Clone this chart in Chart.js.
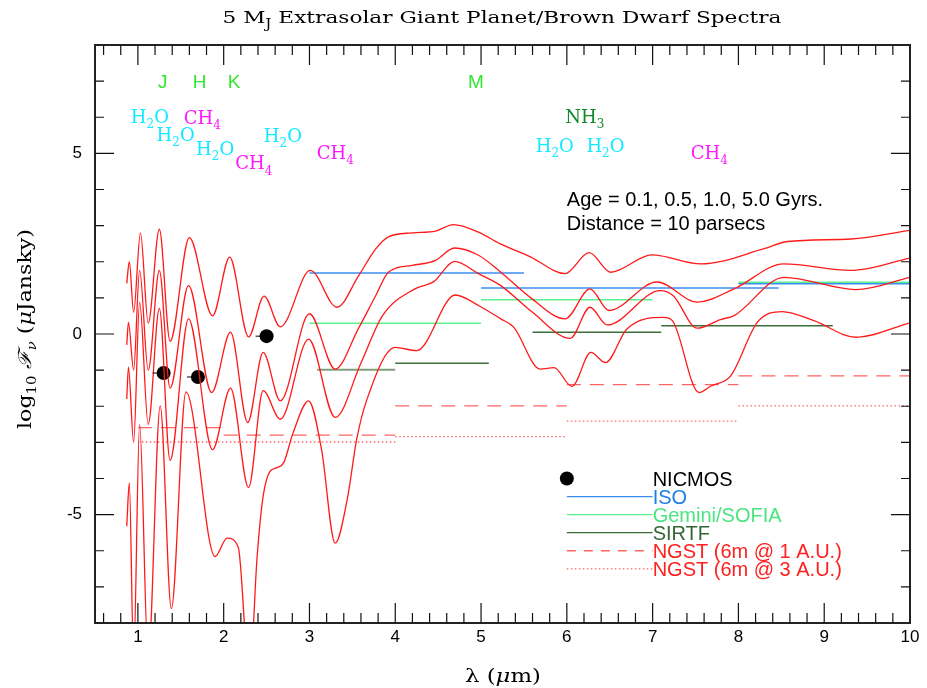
<!doctype html>
<html lang="en">
<head>
<meta charset="UTF-8">
<title>5 MJ Extrasolar Giant Planet/Brown Dwarf Spectra</title>
<script src="https://cdn.jsdelivr.net/npm/chart.js@4.4.1/dist/chart.umd.min.js"></script>
<style>
  html, body { margin: 0; padding: 0; background: #fff; }
  #wrap { width: 927px; height: 688px; }
</style>
</head>
<body>
<div id="wrap"><canvas id="chart" width="927" height="688"></canvas></div>
<script>
// model spectra, one per age (top = youngest)
const age01Wave = [0.87, 0.9, 0.95, 1.03, 1.12, 1.25, 1.375, 1.6, 1.87, 2.07, 2.29, 2.47, 2.66, 3.01, 3.32, 3.57, 3.77, 3.92, 4.2, 4.47, 4.68, 4.97, 5.22, 5.58, 5.98, 6.26, 6.51, 6.99, 7.56, 8.3, 8.57, 9.31, 10.0];
const age01Flux = [1.4, 2.0, 0.6, 2.8, 0.3, 2.9, -0.2, 2.67, 0.5, 2.13, -0.08, 1.05, 0.2, 1.76, 0.74, 1.6, 2.35, 2.69, 2.8, 2.85, 3.03, 2.82, 2.5, 2.13, 1.67, 2.25, 1.71, 2.19, 1.94, 2.36, 2.56, 2.63, 2.87];

const age05Wave = [0.87, 0.89, 0.95, 1.02, 1.12, 1.25, 1.375, 1.59, 1.86, 2.08, 2.28, 2.46, 2.66, 3.0, 3.3, 3.57, 3.77, 3.92, 4.2, 4.47, 4.69, 4.97, 5.23, 5.58, 5.98, 6.27, 6.49, 7.05, 7.52, 7.95, 8.53, 9.31, 10.0];
const age05Flux = [-0.3, 0.32, -1.0, 1.76, -1.0, 1.76, -1.5, 1.34, -1.62, 0.05, -2.45, -0.51, -1.85, 0.56, -0.97, 0.15, 1.05, 1.71, 1.9, 2.04, 2.38, 2.18, 1.71, 1.0, 0.42, 1.25, 0.65, 1.44, 0.88, 1.25, 1.94, 1.76, 2.1];

const age10Wave = [0.87, 0.89, 0.95, 1.02, 1.12, 1.25, 1.375, 1.59, 1.87, 2.08, 2.29, 2.46, 2.66, 2.99, 3.3, 3.6, 3.85, 4.23, 4.45, 4.69, 4.97, 5.23, 5.6, 6.04, 6.27, 6.47, 7.09, 7.24, 7.52, 7.79, 7.95, 8.53, 9.37, 10.0];
const age10Flux = [-1.8, -0.92, -3.0, 0.88, -2.5, 0.71, -3.5, 0.42, -3.2, -1.5, -4.25, -1.57, -2.36, -0.14, -2.31, -0.8, 0.5, 1.25, 1.45, 2.01, 1.67, 1.34, 0.6, -0.12, 0.74, 0.25, 1.2, 1.06, 0.16, 0.4, 0.51, 1.57, 1.23, 1.57];

const age50Wave = [0.87, 0.9, 0.95, 1.02, 1.12, 1.26, 1.39, 1.56, 1.9, 2.04, 2.17, 2.3, 2.39, 2.46, 2.54, 2.62, 2.7, 2.81, 2.99, 3.14, 3.3, 3.44, 3.55, 3.67, 4.0, 4.25, 4.7, 4.97, 5.23, 5.38, 5.69, 5.85, 6.06, 6.28, 6.45, 6.7, 7.13, 7.23, 7.54, 7.68, 7.91, 8.22, 8.51, 8.88, 9.37, 10.0];
const age50Flux = [-5.32, -4.12, -9, -2.5, -9, -1.99, -7.6, -1.6, -6.16, -5.65, -5.9, -9.5, -6.16, -4.49, -3.8, -3.7, -3.56, -2.73, -1.85, -3.19, -5.79, -4.58, -2.92, -1.81, -0.37, -0.46, 1.08, 0.79, 0.42, 0.19, -0.97, -0.93, -1.45, -0.51, -0.79, 0.14, 0.46, 0.37, -1.62, -1.44, -1.16, 0.32, 0.62, 0.37, -0.09, 0.31];

// NICMOS sensitivity points
const nicmosWave = [1.3, 1.7, 2.5];
const nicmosFlux = [-1.08, -1.19, -0.06];

// instrument sensitivity bands: start, end, level
const isoStart = [3.0, 5.0, 8.0];
const isoEnd = [5.5, 8.47, 10.0];
const isoLevel = [1.69, 1.27, 1.39];

const geminiStart = [3.0, 5.0, 8.0];
const geminiEnd = [5.0, 7.0, 10.0];
const geminiLevel = [0.3, 0.95, 1.43];

const sirtfStart = [3.09, 4.0, 5.6, 7.1];
const sirtfEnd = [4.0, 5.09, 7.1, 9.1];
const sirtfLevel = [-0.99, -0.81, 0.05, 0.23];

const ngst1Start = [1.0, 2.0, 4.0, 6.0, 8.0];
const ngst1End = [2.0, 4.0, 6.0, 8.0, 10.0];
const ngst1Level = [-2.59, -2.8, -1.99, -1.4, -1.16];

const ngst3Start = [1.0, 4.0, 6.0, 8.0];
const ngst3End = [4.0, 6.0, 8.0, 10.0];
const ngst3Level = [-2.99, -2.84, -2.41, -1.99];

// axis ticks
const xTickLabels = [1, 2, 3, 4, 5, 6, 7, 8, 9, 10];
const yTickLabels = [-5, 0, 5];

// annotations
const bandNames = ['J', 'H', 'K', 'M'];
const bandWave = [1.29, 1.72, 2.12, 4.94];
const bandLevel = [7.0, 7.0, 7.0, 7.0];

const molNames = ['H2O', 'CH4', 'H2O', 'H2O', 'CH4', 'H2O', 'CH4', 'NH3', 'H2O', 'H2O', 'CH4'];
const molWave = [1.14, 1.75, 1.44, 1.9, 2.35, 2.69, 3.3, 6.21, 5.86, 6.45, 7.66];
const molLevel = [6.02, 6.0, 5.53, 5.14, 4.74, 5.5, 5.03, 6.02, 5.22, 5.22, 5.03];

const legendNames = ['NICMOS', 'ISO', 'Gemini/SOFIA', 'SIRTF', 'NGST (6m @ 1 A.U.)', 'NGST (6m @ 3 A.U.)'];

const RED = '#ff1a1a';
const COL = {
  iso: '#3a8ef0',
  gemini: '#5ef08e',
  sirtf: '#3b6e3b',
  sirtfPale: '#7f9f7f',
  ngst: '#ff6464',
  ngstText: '#ff2020',
  cyan: '#12eaff',
  magenta: '#ff18ff',
  band: '#33e633',
  nh3: '#138a2a'
};
const SANS = '"Liberation Sans", Arial, sans-serif';
const SERIF = '"DejaVu Serif", serif';

function pts(w, f) { return w.map((x, i) => ({ x: x, y: f[i] })); }

const datasets = [];
[[age01Wave, age01Flux], [age05Wave, age05Flux], [age10Wave, age10Flux], [age50Wave, age50Flux]].forEach(function (c) {
  datasets.push({
    type: 'line', data: pts(c[0], c[1]), borderColor: RED, borderWidth: 1.3,
    pointRadius: 0, cubicInterpolationMode: 'monotone', fill: false
  });
});

function addBands(starts, ends, levels, color, dash, width) {
  starts.forEach(function (s, i) {
    const c = Array.isArray(color) ? color[i] : color;
    const w = Array.isArray(width) ? width[i] : width;
    datasets.push({
      type: 'line', data: [{ x: s, y: levels[i] }, { x: ends[i], y: levels[i] }],
      borderColor: c, borderWidth: w, borderDash: dash, pointRadius: 0, tension: 0
    });
  });
}
addBands(ngst3Start, ngst3End, ngst3Level, COL.ngst, [1.5, 2.5], 1.3);
addBands(ngst1Start, ngst1End, ngst1Level, COL.ngst, [14, 9], 1.3);
addBands(sirtfStart, sirtfEnd, sirtfLevel, [COL.sirtfPale, COL.sirtf, COL.sirtf, COL.sirtf], [], [2, 1.4, 1.4, 1.4]);
addBands(isoStart, isoEnd, isoLevel, COL.iso, [], 1.5);
addBands(geminiStart, geminiEnd, geminiLevel, COL.gemini, [], 1.5);

datasets.push({
  type: 'scatter', data: pts(nicmosWave, nicmosFlux), pointRadius: 7,
  pointBackgroundColor: '#000', pointBorderColor: '#000', borderWidth: 0
});

// draw text with subscripts: parts = [[text, mode]], mode 0 normal, 1 sub, 2 italic, 3 italic sub
function fontFor(m, size, family) {
  const s = (m === 1 || m === 3) ? Math.round(size * 0.68) : size;
  return ((m >= 2) ? 'italic ' : '') + s + 'px ' + family;
}
function richWidth(ctx, parts, size, family) {
  let w = 0;
  parts.forEach(function (p) { ctx.font = fontFor(p[1], size, family); w += ctx.measureText(p[0]).width; });
  return w;
}
// fitWidth: optional total width to stretch the text to
function drawRich(ctx, parts, x, y, size, family, color, align, fitWidth) {
  const w = richWidth(ctx, parts, size, family);
  const sx = fitWidth ? fitWidth / w : 1;
  ctx.save();
  ctx.translate(x, y);
  ctx.scale(sx, 1);
  let cx = align === 'center' ? -w / 2 : 0;
  ctx.fillStyle = color;
  ctx.textAlign = 'left';
  ctx.textBaseline = 'alphabetic';
  parts.forEach(function (p) {
    ctx.font = fontFor(p[1], size, family);
    const dy = (p[1] === 1 || p[1] === 3) ? size * 0.3 : 0;
    ctx.fillText(p[0], cx, dy);
    cx += ctx.measureText(p[0]).width;
  });
  ctx.restore();
}
function chemParts(s) {
  return s.split(/(\d+)/).filter(Boolean).map(function (t) { return [t, /\d/.test(t) ? 1 : 0]; });
}

const decor = {
  id: 'decor',
  afterDatasetsDraw(chart) {
    const ctx = chart.ctx;
    const a = chart.chartArea;
    const xs = chart.scales.x, ys = chart.scales.y;
    ctx.save();

    // frame
    ctx.strokeStyle = '#222';
    ctx.lineWidth = 2;
    ctx.strokeRect(a.left, a.top, a.right - a.left, a.bottom - a.top);

    // inward tick marks on all four sides
    ctx.lineWidth = 1.2;
    ctx.strokeStyle = '#111';
    ctx.beginPath();
    for (let k = 3; k <= 49; k++) {
      const px = xs.getPixelForValue(k / 5);
      const len = (k % 5 === 0) ? 20 : 10;
      ctx.moveTo(px, a.bottom); ctx.lineTo(px, a.bottom - len);
      ctx.moveTo(px, a.top); ctx.lineTo(px, a.top + len);
    }
    for (let v = -7; v <= 7; v++) {
      const py = ys.getPixelForValue(v);
      const len = (v % 5 === 0) ? 19 : 9;
      ctx.moveTo(a.left, py); ctx.lineTo(a.left + len, py);
      ctx.moveTo(a.right, py); ctx.lineTo(a.right - len, py);
    }
    ctx.stroke();

    // small left whisker on the NICMOS dots
    ctx.strokeStyle = '#000';
    ctx.lineWidth = 1;
    ctx.beginPath();
    nicmosWave.forEach(function (w, i) {
      const px = xs.getPixelForValue(w), py = ys.getPixelForValue(nicmosFlux[i]);
      ctx.moveTo(px - 11, py); ctx.lineTo(px, py);
    });
    ctx.stroke();

    // band letters
    bandNames.forEach(function (b, i) {
      ctx.font = '19px ' + SANS;
      ctx.fillStyle = COL.band;
      ctx.textAlign = 'center';
      ctx.textBaseline = 'alphabetic';
      ctx.fillText(b, xs.getPixelForValue(bandWave[i]), ys.getPixelForValue(bandLevel[i]) + 7);
    });

    // molecule labels
    molNames.forEach(function (m, i) {
      const col = m === 'H2O' ? COL.cyan : (m === 'CH4' ? COL.magenta : COL.nh3);
      drawRich(ctx, chemParts(m), xs.getPixelForValue(molWave[i]), ys.getPixelForValue(molLevel[i]) + 6.5, 18, SERIF, col, 'center');
    });

    // age / distance note
    ctx.font = '20px ' + SANS;
    ctx.fillStyle = '#000';
    ctx.textAlign = 'left';
    ctx.textBaseline = 'alphabetic';
    ctx.fillText('Age = 0.1, 0.5, 1.0, 5.0 Gyrs.', xs.getPixelForValue(6.0), ys.getPixelForValue(3.75) + 7);
    ctx.fillText('Distance = 10 parsecs', xs.getPixelForValue(6.0), ys.getPixelForValue(3.08) + 7);

    // legend
    const lx0 = xs.getPixelForValue(6.0), lx1 = xs.getPixelForValue(7.0);
    const rows = [-4.0, -4.5, -5.0, -5.5, -6.0, -6.5].map(function (v) { return ys.getPixelForValue(v); });
    ctx.fillStyle = '#000';
    ctx.beginPath(); ctx.arc(lx0, rows[0], 7, 0, Math.PI * 2); ctx.fill();
    const lineStyles = [null, [COL.iso, []], [COL.gemini, []], [COL.sirtf, []], [COL.ngst, [9, 8]], [COL.ngst, [1.5, 2.5]]];
    lineStyles.forEach(function (st, i) {
      if (!st) return;
      ctx.strokeStyle = st[0]; ctx.setLineDash(st[1]); ctx.lineWidth = 1.3;
      ctx.beginPath(); ctx.moveTo(lx0, rows[i]); ctx.lineTo(lx1, rows[i]); ctx.stroke();
    });
    ctx.setLineDash([]);
    const textCols = ['#000', '#1f7fe6', '#4be47e', '#336633', COL.ngstText, COL.ngstText];
    ctx.font = '20px ' + SANS;
    ctx.textAlign = 'left';
    ctx.textBaseline = 'alphabetic';
    legendNames.forEach(function (n, i) {
      ctx.fillStyle = textCols[i];
      ctx.fillText(n, lx1, rows[i] + 7);
    });

    // title
    drawRich(ctx, [['5 M', 0], ['J', 1], [' Extrasolar Giant Planet/Brown Dwarf Spectra', 0]], 502, 23, 17, SERIF, '#000', 'center', 559);

    // x axis title
    drawRich(ctx, [['\u03bb (', 0], ['\u03bc', 2], ['m)', 0]], 503, 682, 19, SERIF, '#000', 'center', 76);

    // y axis title
    ctx.translate(25, 329);
    ctx.rotate(-Math.PI / 2);
    drawRich(ctx, [['log', 0], ['10', 1], [' ', 0], ['\u2131', 2], ['\u03bd', 3], [' (', 0], ['\u03bc', 2], ['Jansky)', 0]], 0, 6, 18, SERIF, '#000', 'center', 200);

    ctx.restore();
  }
};

new Chart(document.getElementById('chart'), {
  type: 'line',
  data: { datasets: datasets },
  options: {
    responsive: false,
    devicePixelRatio: 1,
    animation: false,
    layout: { padding: { top: 45, right: 17, left: 0, bottom: 0 } },
    plugins: { legend: { display: false }, tooltip: { enabled: false }, title: { display: false } },
    scales: {
      x: {
        type: 'linear', min: 0.5, max: 10,
        afterBuildTicks: function (s) { s.ticks = xTickLabels.map(function (v) { return { value: v }; }); },
        afterFit: function (s) { s.height = 65; },
        ticks: { font: { family: SANS, size: 17 }, color: '#000', padding: 4, maxRotation: 0, autoSkip: false },
        grid: { display: false, drawTicks: false },
        border: { display: false }
      },
      y: {
        type: 'linear', min: -8, max: 8,
        afterBuildTicks: function (s) { s.ticks = yTickLabels.map(function (v) { return { value: v }; }); },
        afterFit: function (s) { s.width = 95; },
        ticks: { font: { family: SANS, size: 17 }, color: '#000', padding: 13, autoSkip: false },
        grid: { display: false, drawTicks: false },
        border: { display: false }
      }
    }
  },
  plugins: [decor]
});
</script>
</body>
</html>
